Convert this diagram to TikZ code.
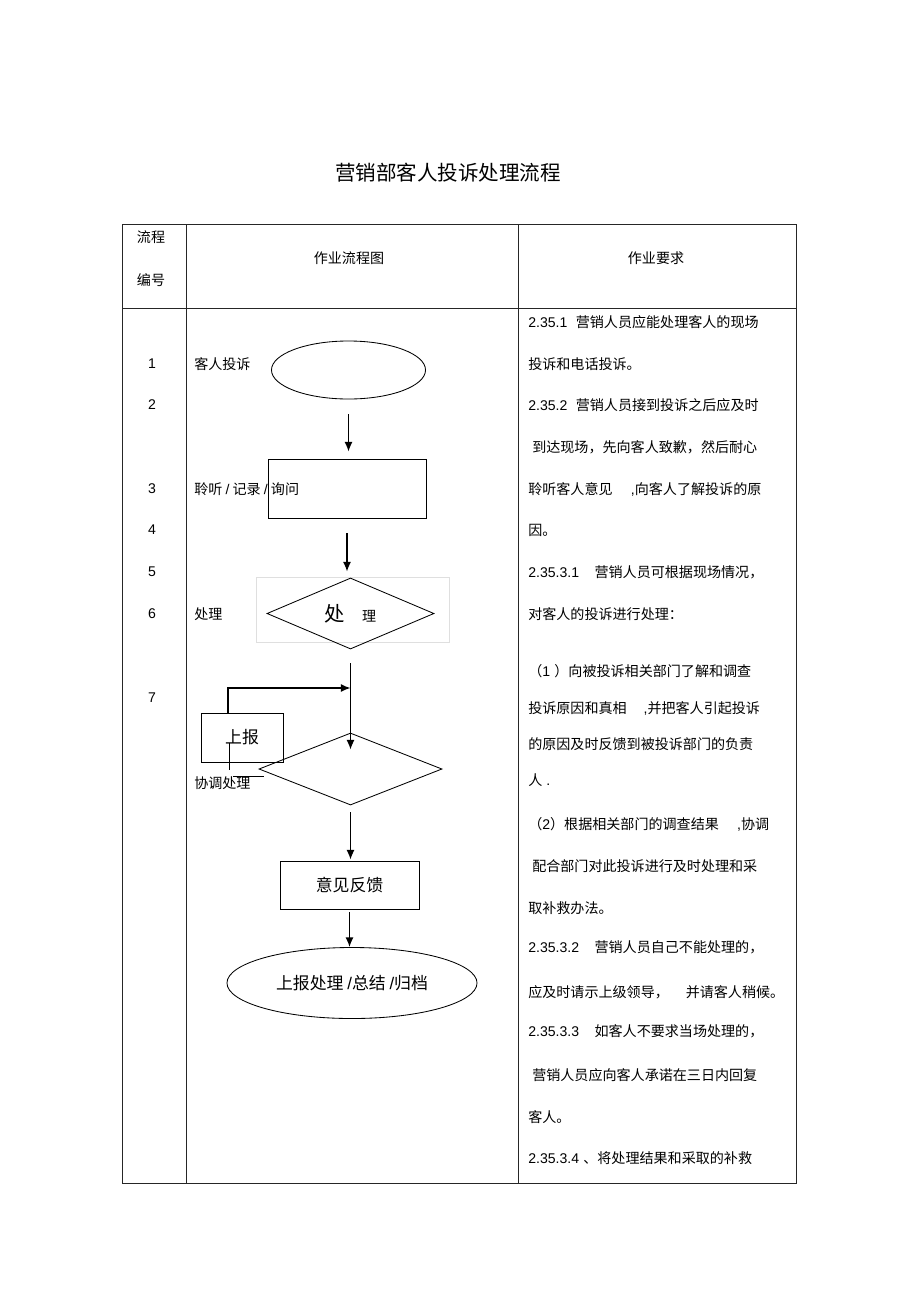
\documentclass[tikz,border=0pt]{standalone}
\usepackage{fontspec}
\setmainfont{Noto Sans CJK SC}
\newfontfamily\latinfont{Liberation Sans}
\newcommand\numtxt[1]{{\latinfont #1}}
\usetikzlibrary{shapes.geometric,arrows.meta}

\tikzset{
  tableline/.style={line width=0.6pt, black!85},
  flowline/.style={line width=1pt, -{Latex[length=2.4mm,width=2mm]}},
  flowbox/.style={draw, line width=0.6pt, inner sep=0pt},
  txt/.style={anchor=west, inner sep=0pt},
}

\begin{document}
\begin{tikzpicture}[x=0.025cm, y=-0.025cm, font=\fontsize{10}{12}\selectfont]
  \useasboundingbox (0,0) rectangle (920,1303);

  \node (title) at (448,173) {\fontsize{14.6}{17}\selectfont 营销部客人投诉处理流程};

  % table
  \draw[tableline] (122,224) rectangle (796,1183);
  \draw[tableline] (122,308) -- (796,308);
  \draw[tableline] (186,224) -- (186,1183);
  \draw[tableline] (518,224) -- (518,1183);

  \node (hnum1) at (151,237) {流程};
  \node (hnum2) at (151,280) {编号};
  \node (hflow) at (349,258) {作业流程图};
  \node (hreq) at (656,258) {作业要求};

  \foreach \k/\y in {1/364,2/405,3/489,4/530,5/572,6/614,7/698}
    \node (no\k) at (152,\y) {\numtxt{\k}};

  % flow chart
  \node[flowbox, ellipse, minimum width=3.85cm, minimum height=1.45cm] (start) at (348.5,370) {};
  \node[flowbox, minimum width=3.95cm, minimum height=1.475cm] (listen) at (347,488.5) {};
  \draw[gray!25] (256,577) rectangle (449,642);
  \node[flowbox, diamond, minimum width=4.175cm, minimum height=1.775cm] (proc) at (350.5,613.5)
    {\fontsize{14.5}{16}\selectfont 处\hspace{12pt}{\fontsize{10}{11}\selectfont 理}};
  \node[flowbox, diamond, minimum width=4.575cm, minimum height=1.8cm] (check) at (350.5,769) {};
  \node[flowbox, minimum width=2.05cm, minimum height=1.225cm] (report) at (242,737.5)
    {\fontsize{12}{14}\selectfont 上报};
  \node[flowbox, minimum width=3.475cm, minimum height=1.2cm] (feedback) at (349.5,885)
    {\fontsize{12}{14}\selectfont 意见反馈};
  \node[flowbox, ellipse, minimum width=6.25cm, minimum height=1.775cm] (finish) at (352,983)
    {\fontsize{12}{14}\selectfont 上报处理 \numtxt{/}总结 \numtxt{/}归档};

  \node[txt] (lab1) at (194,364) {客人投诉};
  \node[txt] (lab3) at (194,489) {聆听 \numtxt{/} 记录 \numtxt{/} 询问};
  \node[txt] (lab6) at (194,614) {处理};
  \node[txt] (labc) at (194,783) {协调处理};
  \draw[thin] (229,743) -- (229,770);
  \draw[thin] (233,776) -- (264,776);

  \coordinate (join) at (350.5,688);
  \draw[flowline, shorten <=0.375cm, shorten >=0.175cm] (start.south) -- (start.south |- listen.north);
  \draw[flowline, shorten <=0.375cm, shorten >=0.15cm] (listen.south) -- (listen.south |- proc.north);
  \draw[flowline, shorten <=0.35cm, shorten >=-0.425cm] (proc.south) -- (check.north);
  \draw[flowline] ([xshift=-0.35cm]report.north) |- (join);
  \draw[flowline, shorten <=0.175cm, shorten >=0.025cm] (check.south) -- (check.south |- feedback.north);
  \draw[flowline, shorten <=0.075cm] (feedback.south) -- (feedback.south |- finish.north);

  % requirements
  \foreach \x/\y/\t [count=\i] in {
    528/322/{\numtxt{2.35.1}\hspace{0.6em}营销人员应能处理客人的现场},
    528/364/{投诉和电话投诉。},
    528/405/{\numtxt{2.35.2}\hspace{0.6em}营销人员接到投诉之后应及时},
    532/447/{到达现场，先向客人致歉，然后耐心},
    528/489/{聆听客人意见\hspace{1.3em}\numtxt{,}向客人了解投诉的原},
    528/530/{因。},
    528/572/{\numtxt{2.35.3.1}\hspace{1.1em}营销人员可根据现场情况，},
    528/614/{对客人的投诉进行处理：},
    528/671/{（\numtxt{1}\hspace{0.3em}）向被投诉相关部门了解和调查},
    528/708/{投诉原因和真相\hspace{1.2em}\numtxt{,}并把客人引起投诉},
    528/744/{的原因及时反馈到被投诉部门的负责},
    528/780/{人\numtxt{ .}},
    528/824/{（\numtxt{2}）根据相关部门的调查结果\hspace{1.3em}\numtxt{,}协调},
    532/866/{配合部门对此投诉进行及时处理和采},
    528/908/{取补救办法。},
    528/947/{\numtxt{2.35.3.2}\hspace{1.1em}营销人员自己不能处理的，},
    528/992/{应及时请示上级领导，\hspace{1.2em}并请客人稍候。},
    528/1031/{\numtxt{2.35.3.3}\hspace{1.1em}如客人不要求当场处理的，},
    532/1075/{营销人员应向客人承诺在三日内回复},
    528/1117/{客人。},
    528/1158/{\numtxt{2.35.3.4}\hspace{0.3em}、将处理结果和采取的补救}}
    \node[txt] (req\i) at (\x,\y) {\t};
\end{tikzpicture}
\end{document}
